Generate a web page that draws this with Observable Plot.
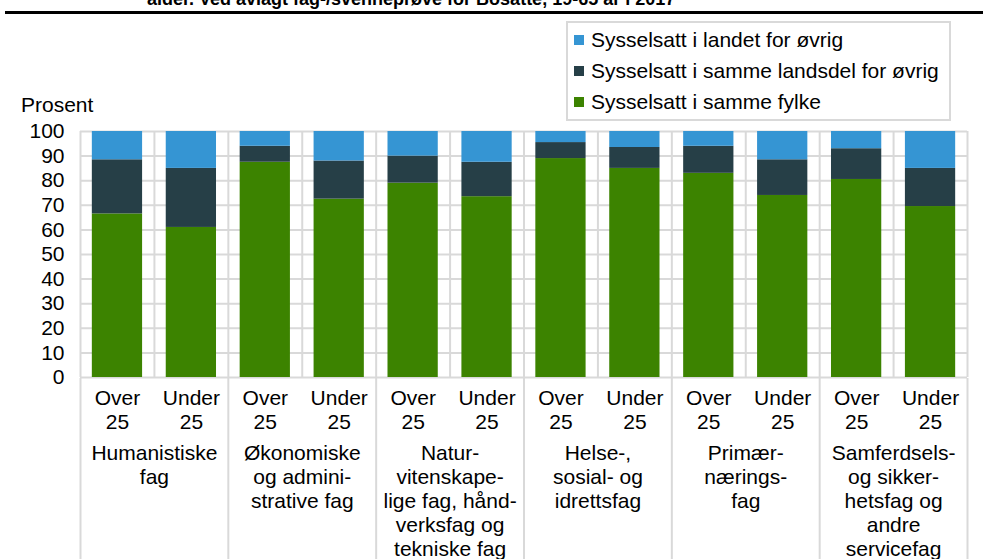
<!DOCTYPE html>
<html>
<head>
<meta charset="utf-8">
<script src="https://cdn.jsdelivr.net/npm/d3@7"></script>
<script src="https://cdn.jsdelivr.net/npm/@observablehq/plot@0.6"></script>
<style>
  html, body { margin: 0; padding: 0; background: #fff; }
  #wrap { position: relative; width: 983px; height: 559px; overflow: hidden; font-family: "Liberation Sans", Arial, sans-serif; color: #000; }
  #title { position: absolute; left: 147px; top: -10px; font-size: 18px; line-height: 18px; font-weight: bold; white-space: nowrap; }
  #rule { position: absolute; left: 5px; top: 11px; width: 978px; height: 3px; background: #000; }
  #ylab { position: absolute; left: 21px; top: 94px; font-size: 21px; line-height: 21px; }
  #legend { position: absolute; left: 566px; top: 21px; width: 381px; height: 95px; border: 2px solid #d9d9d9; padding-top: 1px; background: #fff; }
  .li { height: 31px; line-height: 31px; font-size: 21px; white-space: nowrap; position: relative; padding-left: 23px; }
  .sw { position: absolute; left: 6px; top: 11px; width: 10px; height: 10px; }
  #p1 { position: absolute; left: 0; top: 0; }
  #p2 { position: absolute; left: 0; top: 378px; }
</style>
</head>
<body>
<div id="wrap">
  <div id="p1"></div>
  <div id="p2"></div>
  <div id="title">alder. Ved avlagt fag-/svenneprøve for Bosatte, 19-65 år i 2017</div>
  <div id="rule"></div>
  <div id="ylab">Prosent</div>
  <div id="legend"></div>
</div>
<script>
// ---- data ----
const groups = ["Humanistiske fag", "Økonomiske og administrative fag", "Naturvitenskapelige fag, håndverksfag og tekniske fag", "Helse-, sosial- og idrettsfag", "Primærnæringsfag", "Samferdsels- og sikkerhetsfag og andre servicefag"];
const groupLabels = ["Humanistiske\nfag", "Økonomiske\nog admini-\nstrative fag", "Natur-\nvitenskape-\nlige fag, hånd-\nverksfag og\ntekniske fag", "Helse-,\nsosial- og\nidrettsfag", "Primær-\nnærings-\nfag", "Samferdsels-\nog sikker-\nhetsfag og\nandre\nservicefag"];
const ages = ["Over 25", "Under 25"];
const ageLabels = ["Over\n25", "Under\n25"];
const series = ["Sysselsatt i samme fylke", "Sysselsatt i samme landsdel for øvrig", "Sysselsatt i landet for øvrig"];
const colors = ["#3c8300", "#263f47", "#3595d3"];
const sammeFylke    = [66.5, 61, 87.5, 72.5, 79, 73.5, 89, 85, 83, 74, 80.5, 69.5];
const sammeLandsdel = [22, 24, 6.5, 15.5, 11, 14, 6.5, 8.5, 11, 14.5, 12.5, 15.5];
const landet        = [11.5, 15, 6, 12, 10, 12.5, 4.5, 6.5, 6, 11.5, 7, 15];
const yTicks = [0, 10, 20, 30, 40, 50, 60, 70, 80, 90, 100];

// ---- build ----
const seriesValues = [sammeFylke, sammeLandsdel, landet];
const keys = groups.flatMap(g => ages.map(a => g + "|" + a));
const ageOfKey = k => ageLabels[ages.indexOf(k.split("|")[1])];
const rows = [];
series.forEach((s, si) => keys.forEach((k, i) => rows.push({key: k, series: s, value: seriesValues[si][i]})));

const W = 983, ML = 80, MR = 16;
const step = (W - ML - MR) / keys.length;
const font = "'Liberation Sans', Arial, sans-serif";
const grid = "#d9d9d9";
const xScale = {domain: keys, paddingInner: 0.32, paddingOuter: 0.16, round: false, axis: null};

const p1 = Plot.plot({
  width: W, height: 378, marginTop: 131, marginBottom: 1, marginLeft: ML, marginRight: MR,
  style: {fontFamily: font, fontSize: "21px", color: "#000", background: "transparent", overflow: "visible"},
  x: xScale,
  y: {domain: [0, 100], label: null},
  color: {domain: series, range: colors},
  marks: [
    Plot.gridY(yTicks, {stroke: grid, strokeOpacity: 1, strokeWidth: 2}),
    Plot.ruleX(keys, {x: d => d, dx: -step / 2, y1: 0, y2: 100, stroke: grid, strokeWidth: 2}),
    Plot.ruleX([keys[keys.length - 1]], {x: d => d, dx: step / 2, y1: 0, y2: 100, stroke: grid, strokeWidth: 2}),
    Plot.barY(rows, {x: "key", y: "value", fill: "series", order: series}),
    Plot.axisY(yTicks, {tickSize: 0, tickPadding: 16, fontSize: 21, label: null})
  ]
});
document.getElementById("p1").appendChild(p1);

const p2 = Plot.plot({
  width: W, height: 181, marginTop: 0, marginBottom: 0, marginLeft: ML, marginRight: MR,
  style: {fontFamily: font, fontSize: "21px", color: "#000", background: "transparent", overflow: "visible"},
  x: xScale,
  marks: [
    Plot.ruleX(groups, {x: g => g + "|" + ages[0], dx: -step / 2, stroke: grid, strokeWidth: 2}),
    Plot.ruleX([keys[keys.length - 1]], {x: d => d, dx: step / 2, stroke: grid, strokeWidth: 2}),
    Plot.text(keys, {x: d => d, text: ageOfKey, frameAnchor: "top", lineAnchor: "top", dy: 9, lineHeight: 24 / 21, fontSize: 21, fill: "#000"}),
    Plot.text(groups, {x: g => g + "|" + ages[0], dx: step / 2, text: (g, i) => groupLabels[i], frameAnchor: "top", lineAnchor: "top", dy: 64, lineHeight: 24 / 21, fontSize: 21, fill: "#000"})
  ]
});
document.getElementById("p2").appendChild(p2);

// ---- legend ----
const legend = document.getElementById("legend");
[2, 1, 0].forEach(i => {
  const d = document.createElement("div");
  d.className = "li";
  const sw = document.createElement("span");
  sw.className = "sw";
  sw.style.background = colors[i];
  d.appendChild(sw);
  d.appendChild(document.createTextNode(series[i]));
  legend.appendChild(d);
});
</script>
</body>
</html>
